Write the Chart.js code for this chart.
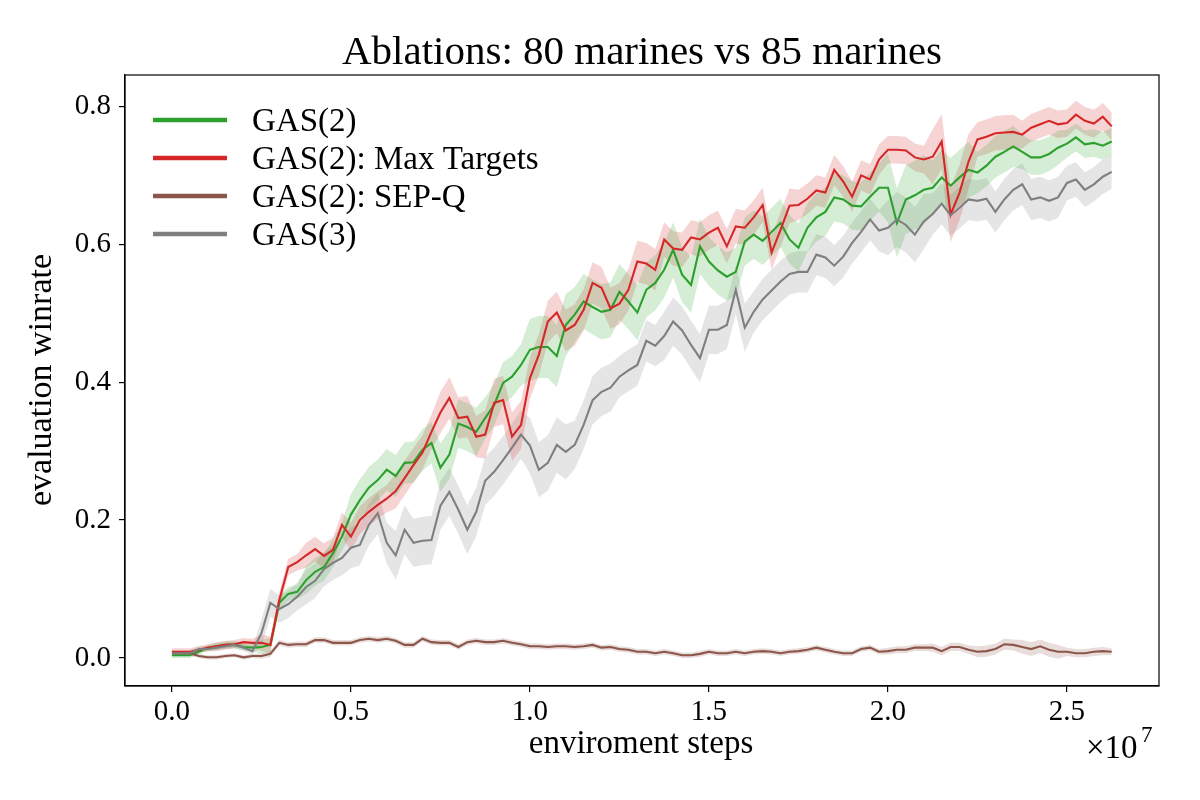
<!DOCTYPE html>
<html>
<head>
<meta charset="utf-8">
<script src="https://cdn.jsdelivr.net/npm/chart.js@4.4.1/dist/chart.umd.min.js"></script>
<style>
  html, body { margin: 0; padding: 0; background: #fff; }
  #wrap { width: 1200px; height: 800px; }
</style>
</head>
<body>
<div id="wrap"><canvas id="c" width="1200" height="800"></canvas></div>
<script>
// environment steps, in units of 1e7
const steps = [0,0.025,0.05,0.075,0.1,0.125,0.15,0.175,0.2,0.225,
0.25,0.275,0.3,0.325,0.35,0.375,0.4,0.425,0.45,0.475,
0.5,0.525,0.55,0.575,0.6,0.625,0.65,0.675,0.7,0.725,
0.75,0.775,0.8,0.825,0.85,0.875,0.9,0.925,0.95,0.975,
1.0,1.025,1.05,1.075,1.1,1.125,1.15,1.175,1.2,1.225,
1.25,1.275,1.3,1.325,1.35,1.375,1.4,1.425,1.45,1.475,
1.5,1.525,1.55,1.575,1.6,1.625,1.65,1.675,1.7,1.725,
1.75,1.775,1.8,1.825,1.85,1.875,1.9,1.925,1.95,1.975,
2.0,2.025,2.05,2.075,2.1,2.125,2.15,2.175,2.2,2.225,
2.25,2.275,2.3,2.325,2.35,2.375,2.4,2.425,2.45,2.475,
2.5,2.525,2.55,2.575,2.6,2.625];

const gas2 = [0.004,0.004,0.004,0.009,0.015,0.017,0.019,0.019,0.016,0.015,
0.016,0.019,0.080,0.093,0.096,0.113,0.125,0.132,0.152,0.176,
0.208,0.229,0.247,0.258,0.273,0.264,0.283,0.284,0.302,0.312,
0.276,0.295,0.340,0.335,0.328,0.348,0.367,0.399,0.408,0.425,
0.447,0.451,0.451,0.438,0.483,0.498,0.517,0.509,0.502,0.505,
0.531,0.517,0.501,0.534,0.544,0.563,0.592,0.556,0.541,0.597,
0.575,0.562,0.553,0.560,0.604,0.614,0.605,0.618,0.631,0.607,
0.595,0.624,0.639,0.647,0.668,0.665,0.656,0.655,0.669,0.682,
0.682,0.631,0.665,0.671,0.679,0.682,0.697,0.685,0.697,0.708,
0.704,0.714,0.727,0.734,0.742,0.734,0.726,0.726,0.731,0.740,
0.746,0.755,0.745,0.747,0.743,0.749];

const gas2MaxTargets = [0.009,0.009,0.009,0.012,0.015,0.017,0.019,0.020,0.023,0.022,
0.022,0.019,0.084,0.132,0.139,0.149,0.158,0.148,0.157,0.193,
0.176,0.200,0.212,0.222,0.231,0.242,0.261,0.280,0.298,0.328,
0.356,0.377,0.348,0.350,0.321,0.324,0.370,0.374,0.321,0.338,
0.406,0.440,0.488,0.501,0.475,0.483,0.505,0.544,0.537,0.507,
0.514,0.534,0.575,0.572,0.563,0.607,0.594,0.592,0.610,0.607,
0.617,0.624,0.597,0.626,0.624,0.639,0.657,0.588,0.621,0.656,
0.657,0.666,0.678,0.675,0.708,0.691,0.669,0.700,0.694,0.723,
0.737,0.737,0.736,0.726,0.723,0.727,0.749,0.643,0.675,0.720,
0.752,0.756,0.761,0.762,0.763,0.759,0.769,0.774,0.779,0.774,
0.776,0.788,0.779,0.775,0.785,0.771];

const gas2SepQ = [0.007,0.007,0.007,0.003,0.001,0.001,0.003,0.004,0.001,0.003,
0.003,0.006,0.022,0.019,0.020,0.020,0.026,0.026,0.022,0.022,
0.022,0.026,0.028,0.026,0.028,0.025,0.019,0.019,0.028,0.023,
0.022,0.022,0.016,0.023,0.025,0.023,0.023,0.025,0.022,0.020,
0.017,0.017,0.016,0.017,0.017,0.016,0.017,0.019,0.015,0.016,
0.013,0.012,0.009,0.009,0.007,0.009,0.007,0.004,0.004,0.006,
0.009,0.007,0.007,0.009,0.007,0.009,0.010,0.009,0.007,0.009,
0.010,0.012,0.015,0.012,0.009,0.007,0.007,0.013,0.015,0.009,
0.010,0.012,0.012,0.015,0.015,0.015,0.010,0.016,0.016,0.012,
0.009,0.010,0.013,0.020,0.019,0.016,0.013,0.017,0.012,0.009,
0.009,0.007,0.007,0.009,0.010,0.009];

const gas3 = [0.007,0.007,0.007,0.013,0.013,0.015,0.017,0.019,0.015,0.010,
0.036,0.080,0.071,0.078,0.089,0.103,0.112,0.129,0.138,0.145,
0.160,0.164,0.193,0.210,0.167,0.149,0.186,0.167,0.170,0.171,
0.221,0.241,0.215,0.186,0.212,0.257,0.270,0.287,0.305,0.324,
0.308,0.273,0.283,0.309,0.299,0.309,0.338,0.374,0.386,0.392,
0.408,0.417,0.425,0.460,0.453,0.467,0.488,0.475,0.454,0.435,
0.476,0.476,0.483,0.534,0.479,0.502,0.520,0.533,0.546,0.557,
0.560,0.560,0.585,0.581,0.569,0.582,0.602,0.618,0.636,0.620,
0.624,0.636,0.628,0.614,0.633,0.644,0.659,0.642,0.653,0.665,
0.663,0.666,0.647,0.665,0.679,0.687,0.665,0.668,0.663,0.668,
0.689,0.694,0.679,0.687,0.698,0.705];

// half-width of shaded band, one value per block of 5 samples
const gas2Band = [0.004,0.005,0.010,0.020,0.030,0.030,0.035,0.030,0.045,0.040,0.040,0.040,0.035,0.035,0.035,0.035,0.050,0.040,0.030,0.025,0.020,0.020];
const gas2MaxTargetsBand = [0.005,0.006,0.012,0.018,0.020,0.025,0.030,0.035,0.030,0.030,0.030,0.025,0.025,0.025,0.022,0.022,0.020,0.040,0.025,0.020,0.020,0.020];
const gas2SepQBand = [0.003,0.003,0.004,0.004,0.004,0.004,0.004,0.004,0.004,0.004,0.004,0.004,0.004,0.004,0.004,0.004,0.005,0.006,0.008,0.010,0.006,0.005];
const gas3Band = [0.004,0.005,0.020,0.025,0.030,0.035,0.035,0.035,0.040,0.035,0.030,0.035,0.035,0.030,0.030,0.030,0.040,0.030,0.030,0.030,0.025,0.025];

const seriesNames = ['GAS(2)', 'GAS(2): Max Targets', 'GAS(2): SEP-Q', 'GAS(3)'];
const xTicks = [0.0, 0.5, 1.0, 1.5, 2.0, 2.5];
const yTicks = [0.0, 0.2, 0.4, 0.6, 0.8];

const series = [
  { name: seriesNames[0], vals: gas2, band: gas2Band, color: '#2ca02c', fillc: 'rgba(44,160,44,0.2)' },
  { name: seriesNames[1], vals: gas2MaxTargets, band: gas2MaxTargetsBand, color: '#d62728', fillc: 'rgba(214,39,40,0.2)' },
  { name: seriesNames[2], vals: gas2SepQ, band: gas2SepQBand, color: '#8c564b', fillc: 'rgba(140,86,75,0.2)' },
  { name: seriesNames[3], vals: gas3, band: gas3Band, color: '#7f7f7f', fillc: 'rgba(127,127,127,0.2)' }
];

const SERIF = '"Liberation Serif", "DejaVu Serif", serif';
const datasets = [];
series.forEach((s, k) => {
  const lo = s.vals.map((v, i) => ({ x: steps[i], y: v - s.band[Math.floor(i / 5)] }));
  const hi = s.vals.map((v, i) => ({ x: steps[i], y: v + s.band[Math.floor(i / 5)] }));
  datasets.push({ label: s.name + ' lo', data: lo, borderWidth: 0, pointRadius: 0, fill: false, order: 20 + k, borderColor: 'rgba(0,0,0,0)' });
  datasets.push({ label: s.name + ' hi', data: hi, borderWidth: 0, pointRadius: 0, fill: '-1', backgroundColor: s.fillc, order: 20 + k, borderColor: 'rgba(0,0,0,0)' });
});
series.forEach((s, k) => {
  datasets.push({ label: s.name, data: s.vals.map((v, i) => ({ x: steps[i], y: v })), borderColor: s.color, borderWidth: 2.1, pointRadius: 0, fill: false, tension: 0, order: 10 - k });
});

const decor = {
  id: 'decor',
  afterDatasetsDraw(chart) {
    const { ctx, chartArea: a } = chart;
    ctx.save();
    ctx.strokeStyle = '#000';
    ctx.lineWidth = 1.2;
    ctx.strokeRect(a.left, a.top, a.right - a.left, a.bottom - a.top);
    // legend
    ctx.textBaseline = 'middle';
    ctx.textAlign = 'left';
    ctx.font = '33px ' + SERIF;
    series.forEach((s, k) => {
      const y = 120 + k * 38;
      ctx.strokeStyle = s.color;
      ctx.lineWidth = 4.5;
      ctx.beginPath();
      ctx.moveTo(153, y);
      ctx.lineTo(227, y);
      ctx.stroke();
      ctx.fillStyle = '#000';
      ctx.fillText(s.name, 252, y + 2);
    });
    // title
    ctx.fillStyle = '#000';
    ctx.textAlign = 'center';
    ctx.font = '41px ' + SERIF;
    ctx.fillText('Ablations: 80 marines vs 85 marines', 642, 53);
    // x label
    ctx.font = '33px ' + SERIF;
    ctx.fillText('enviroment steps', 641, 744);
    // multiplier
    ctx.textAlign = 'left';
    ctx.font = '33px ' + SERIF;
    ctx.fillText('\u00d710', 1086, 749);
    ctx.font = '23px ' + SERIF;
    ctx.fillText('7', 1141, 736);
    // y label
    ctx.translate(42, 380);
    ctx.rotate(-Math.PI / 2);
    ctx.textAlign = 'center';
    ctx.font = '34px ' + SERIF;
    ctx.fillText('evaluation winrate', 0, 0);
    ctx.restore();
  }
};

new Chart(document.getElementById('c'), {
  type: 'line',
  data: { datasets },
  options: {
    responsive: false,
    animation: false,
    devicePixelRatio: 1,
    layout: { padding: { top: 75, right: 41, left: 0, bottom: 0 } },
    plugins: { legend: { display: false }, tooltip: { enabled: false }, title: { display: false } },
    scales: {
      x: {
        type: 'linear', min: -0.131, max: 2.757,
        afterBuildTicks: (s) => { s.ticks = xTicks.map(v => ({ value: v })); },
        afterFit: (s) => { s.height = 114; },
        ticks: { color: '#000', font: { family: SERIF, size: 29 }, padding: 3, maxRotation: 0, callback: (v) => Number(v).toFixed(1) },
        grid: { drawOnChartArea: false, drawTicks: true, tickLength: 6, color: '#000', lineWidth: 1.2 },
        border: { display: true, color: '#000', width: 1.2 }
      },
      y: {
        type: 'linear', min: -0.0406, max: 0.8455,
        afterBuildTicks: (s) => { s.ticks = yTicks.map(v => ({ value: v })); },
        afterFit: (s) => { s.width = 125; },
        ticks: { color: '#000', font: { family: SERIF, size: 29 }, padding: 8, callback: (v) => Number(v).toFixed(1) },
        grid: { drawOnChartArea: false, drawTicks: true, tickLength: 6, color: '#000', lineWidth: 1.2 },
        border: { display: true, color: '#000', width: 1.2 }
      }
    }
  },
  plugins: [decor]
});
</script>
</body>
</html>
